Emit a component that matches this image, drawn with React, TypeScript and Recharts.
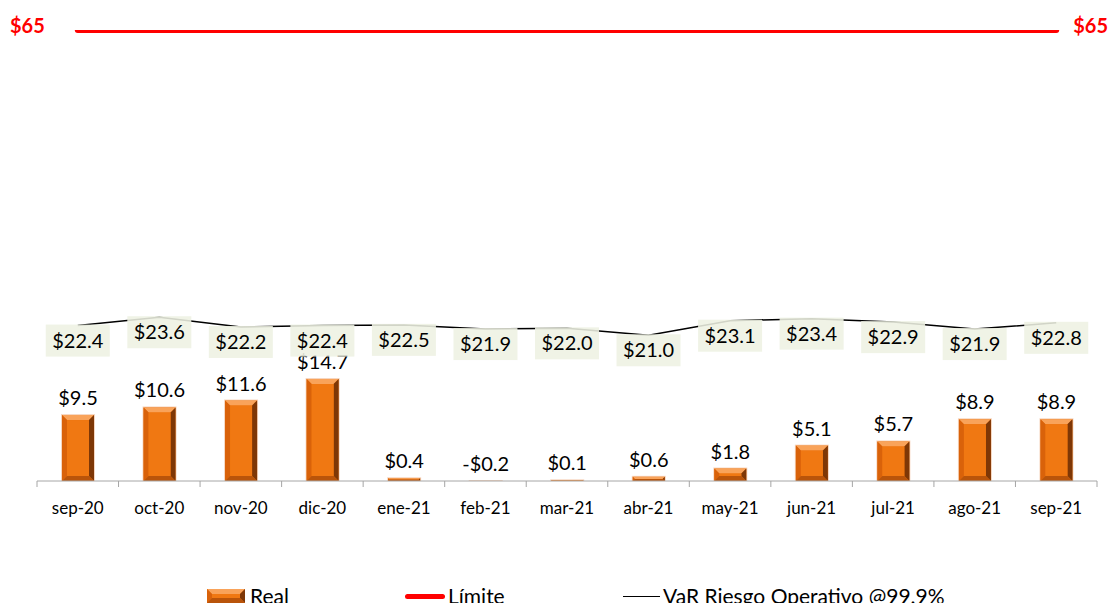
import React from 'react';
import { ComposedChart, Bar, Line, XAxis, YAxis, LabelList } from 'recharts';

const months = ['sep-20', 'oct-20', 'nov-20', 'dic-20', 'ene-21', 'feb-21', 'mar-21', 'abr-21', 'may-21', 'jun-21', 'jul-21', 'ago-21', 'sep-21'];
const real = [9.5, 10.6, 11.6, 14.7, 0.4, -0.2, 0.1, 0.6, 1.8, 5.1, 5.7, 8.9, 8.9];
const varRiesgo = [22.4, 23.6, 22.2, 22.4, 22.5, 21.9, 22.0, 21.0, 23.1, 23.4, 22.9, 21.9, 22.8];
const limite = [65, 65, 65, 65, 65, 65, 65, 65, 65, 65, 65, 65, 65];

const data = months.map((m, i) => ({ month: m, real: real[i], varOp: varRiesgo[i], limite: limite[i] }));

const FONT = 'Lato, "Open Sans", sans-serif';
const W = 1109;
const M = { top: 30, right: 12, left: 37, bottom: 25 };
const band = (W - M.left - M.right) / months.length;

const money = (v: number) => (v < 0 ? `-$${Math.abs(v).toFixed(1)}` : `$${v.toFixed(1)}`);

// bevelled orange bar like the excel one
const BevelBar = (props: any) => {
  const { x, y, width, height } = props;
  const top = height < 0 ? y + height : y;
  const h = Math.abs(height);
  if (!h || h < 0.5) return null;
  const b = Math.min(5, h / 2);
  const r = x + width;
  const bt = top + h;
  return (
    <g>
      <rect x={x - 1} y={top - 1} width={width + 2} height={h + 2} fill="#F6D6C0" />
      <rect x={x} y={top} width={width} height={h} fill="#E8700E" />
      <polygon points={`${x},${top} ${r},${top} ${r - b},${top + b} ${x + b},${top + b}`} fill="#F9A35A" />
      <polygon points={`${r},${top} ${r},${bt} ${r - b},${bt - b} ${r - b},${top + b}`} fill="#7E3706" />
      <polygon points={`${x},${top} ${x + b},${top + b} ${x + b},${bt - b} ${x},${bt}`} fill="#D9620A" />
      <polygon points={`${x},${bt} ${r},${bt} ${r - b},${bt - b} ${x + b},${bt - b}`} fill="#B9540A" />
      <rect x={x + b} y={top + b} width={Math.max(0, width - 2 * b)} height={Math.max(0, h - 2 * b)} fill="#F07812" />
    </g>
  );
};

const MonthTick = (props: any) => {
  const { x, y, payload, index } = props;
  return (
    <g>
      <line x1={x - band / 2} x2={x - band / 2} y1={y} y2={y + 6} stroke="#A6A6A6" />
      {index === months.length - 1 && (
        <line x1={x + band / 2} x2={x + band / 2} y1={y} y2={y + 6} stroke="#A6A6A6" />
      )}
      <text x={x} y={y + 33} textAnchor="middle" fontSize={17} fontFamily={FONT} fill="#000">
        {payload.value}
      </text>
    </g>
  );
};

const RealLabel = (props: any) => {
  const { x, y, width, height, value } = props;
  const top = Math.min(y, y + height);
  return (
    <text x={x + width / 2} y={top - 10} textAnchor="middle" fontSize={20} fontFamily={FONT} fill="#000">
      {money(value)}
    </text>
  );
};

const VarLabel = (props: any) => {
  const { x, y, value } = props;
  const cy = y + 15;
  return (
    <g>
      <rect x={x - 32} y={cy - 16} width={64} height={32} fill="#EEF1E3" fillOpacity={0.88} />
      <text x={x} y={cy + 7} textAnchor="middle" fontSize={20} fontFamily={FONT} fill="#000">
        {money(value)}
      </text>
    </g>
  );
};

const LimiteLabel = (props: any) => {
  const { x, y, value, index } = props;
  if (index !== 0 && index !== months.length - 1) return null;
  const first = index === 0;
  return (
    <text
      x={first ? x - 33 : x + 17}
      y={y + 3}
      textAnchor={first ? 'end' : 'start'}
      fontSize={20}
      fontWeight="bold"
      fontFamily={FONT}
      fill="#FF0000"
    >
      ${value}
    </text>
  );
};

const legendText: React.CSSProperties = { fontFamily: FONT, fontSize: 21, color: '#000', position: 'absolute', top: 0, lineHeight: '24px' };

export default function App() {
  return (
    <div style={{ position: 'absolute', left: 0, top: 0, width: W, height: 603, overflow: 'hidden', background: '#fff' }}>
      <ComposedChart width={W} height={540} data={data} margin={M}>
        <XAxis
          dataKey="month"
          axisLine={{ stroke: '#A6A6A6' }}
          tickLine={false}
          tickSize={0}
          tickMargin={0}
          height={34}
          tick={<MonthTick />}
          interval={0}
        />
        <YAxis hide domain={[0, 65]} allowDataOverflow />
        <Bar dataKey="real" barSize={32} shape={<BevelBar />} isAnimationActive={false}>
          <LabelList dataKey="real" content={<RealLabel />} />
        </Bar>
        <Line
          dataKey="limite"
          stroke="#FF0000"
          strokeWidth={6}
          strokeLinecap="round"
          dot={false}
          activeDot={false}
          isAnimationActive={false}
        >
          <LabelList dataKey="limite" content={<LimiteLabel />} />
        </Line>
        <Line
          dataKey="varOp"
          stroke="#000"
          strokeWidth={1.5}
          dot={false}
          activeDot={false}
          isAnimationActive={false}
        >
          <LabelList dataKey="varOp" content={<VarLabel />} />
        </Line>
      </ComposedChart>
      <div style={{ position: 'absolute', left: 0, top: 584, width: W, height: 30 }}>
        <svg style={{ position: 'absolute', left: 207, top: 5 }} width={38} height={14}>
          <BevelBar x={0} y={0} width={38} height={14} />
        </svg>
        <span style={{ ...legendText, left: 250 }}>Real</span>
        <div style={{ position: 'absolute', left: 405, top: 10, width: 40, height: 5, borderRadius: 3, background: '#FF0000' }} />
        <span style={{ ...legendText, left: 448 }}>Límite</span>
        <div style={{ position: 'absolute', left: 623, top: 12, width: 37, height: 1, background: '#000' }} />
        <span style={{ ...legendText, left: 663 }}>VaR Riesgo Operativo @99.9%</span>
      </div>
    </div>
  );
}
